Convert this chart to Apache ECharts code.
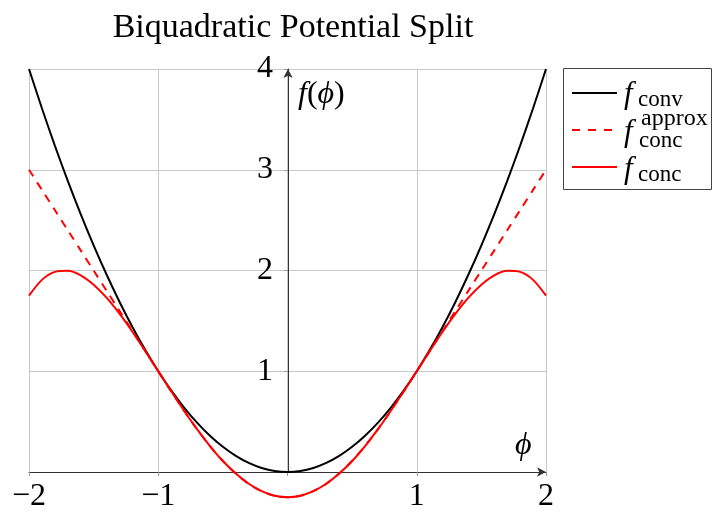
<!DOCTYPE html>
<html>
<head>
<meta charset="utf-8">
<script src="https://cdn.jsdelivr.net/npm/echarts@6/dist/echarts.min.js"></script>
<style>
  html, body { margin: 0; padding: 0; background: #fff; }
  #chart { width: 714px; height: 514px; }
</style>
</head>
<body>
<div id="chart"></div>
<script>
// sample points along phi
const phiValues = [
  -2, -1.9, -1.8, -1.7, -1.6, -1.5, -1.4, -1.3, -1.2, -1.1,
  -1, -0.9, -0.8, -0.7, -0.6, -0.5, -0.4, -0.3, -0.2, -0.1,
  0, 0.1, 0.2, 0.3, 0.4, 0.5, 0.6, 0.7, 0.8, 0.9,
  1, 1.1, 1.2, 1.3, 1.4, 1.5, 1.6, 1.7, 1.8, 1.9, 2
]
// f_conv
const convValues = [
  4, 3.61, 3.24, 2.89, 2.56, 2.25, 1.96, 1.69, 1.44, 1.21,
  1, 0.81, 0.64, 0.49, 0.36, 0.25, 0.16, 0.09, 0.04, 0.01,
  0, 0.01, 0.04, 0.09, 0.16, 0.25, 0.36, 0.49, 0.64, 0.81,
  1, 1.21, 1.44, 1.69, 1.96, 2.25, 2.56, 2.89, 3.24, 3.61, 4
]
// f_conc approx (dashed)
const approxValues = [
  3, 2.8, 2.6, 2.4, 2.2, 2.0, 1.8, 1.6, 1.4, 1.2,
  1, 0.801, 0.608, 0.425, 0.258, 0.109, -0.016, -0.117, -0.19, -0.235,
  -0.25, -0.235, -0.19, -0.117, -0.016, 0.109, 0.258, 0.425, 0.608, 0.801,
  1, 1.2, 1.4, 1.6, 1.8, 2.0, 2.2, 2.4, 2.6, 2.8, 3
]
// f_conc
const concValues = [
  1.75, 1.907, 1.986, 1.997, 1.952, 1.859, 1.73, 1.571, 1.392, 1.199,
  1, 0.801, 0.608, 0.425, 0.258, 0.109, -0.016, -0.117, -0.19, -0.235,
  -0.25, -0.235, -0.19, -0.117, -0.016, 0.109, 0.258, 0.425, 0.608, 0.801,
  1, 1.199, 1.392, 1.571, 1.73, 1.859, 1.952, 1.997, 1.986, 1.907, 1.75
]

const serif = '"Liberation Serif", "DejaVu Serif", serif'
const pairs = ys => phiValues.map((x, i) => [x, ys[i]])
const tickLabel = v => (v === 0 ? '' : String(v).replace('-', '\u2212'))
const PHI = '\u03d5'

const chart = echarts.init(document.getElementById('chart'))
chart.setOption({
  backgroundColor: '#fff',
  animation: false,
  title: {
    text: 'Biquadratic Potential Split',
    left: 288,
    textAlign: 'center',
    top: 6,
    textStyle: { fontFamily: serif, fontWeight: 'normal', fontSize: 34, color: '#000' }
  },
  grid: {
    left: 29,
    right: 168,
    top: 69,
    bottom: 42,
    containLabel: false,
    outerBoundsMode: 'none'
  },
  xAxis: {
    type: 'value',
    min: -2,
    max: 2,
    interval: 1,
    axisLine: {
      onZero: true,
      symbol: ['none', 'arrow'],
      symbolSize: [7, 9],
      lineStyle: { color: '#333', width: 1 }
    },
    axisTick: { show: true, length: 4, lineStyle: { color: '#999' } },
    splitLine: { show: true, lineStyle: { color: '#c8c8c8', width: 1 } },
    axisLabel: {
      margin: 9,
      color: '#000',
      fontFamily: serif,
      fontSize: 32,
      formatter: tickLabel,
      showMinLabel: true,
      showMaxLabel: true,
      hideOverlap: false
    }
  },
  yAxis: {
    type: 'value',
    min: 0,
    max: 4,
    interval: 1,
    offset: -259, // put the axis at phi = 0, labels included
    axisLine: {
      onZero: false,
      symbol: ['none', 'arrow'],
      symbolSize: [7, 9],
      lineStyle: { color: '#333', width: 1 }
    },
    axisTick: { show: true, length: 4, lineStyle: { color: '#999' } },
    splitLine: { show: true, lineStyle: { color: '#c8c8c8', width: 1 } },
    axisLabel: {
      margin: 15,
      color: '#000',
      fontFamily: serif,
      fontSize: 32,
      formatter: tickLabel,
      showMinLabel: true,
      showMaxLabel: true,
      hideOverlap: false
    }
  },
  series: [
    {
      name: 'conv',
      type: 'line',
      data: pairs(convValues),
      showSymbol: false,
      smooth: 0.3,
      clip: false,
      lineStyle: { color: '#000', width: 2 }
    },
    {
      name: 'approx',
      type: 'line',
      data: pairs(approxValues),
      showSymbol: false,
      smooth: 0.3,
      clip: false,
      lineStyle: { color: '#ff0000', width: 2, type: [8, 7] }
    },
    {
      name: 'conc',
      type: 'line',
      data: pairs(concValues),
      showSymbol: false,
      smooth: 0.3,
      clip: false,
      lineStyle: { color: '#ff0000', width: 2 }
    }
  ],
  graphic: [
    // axis names
    {
      type: 'text',
      left: 298,
      top: 79,
      style: {
        text: '{i|f}(' + '{i|' + PHI + '})',
        font: '32px ' + serif,
        fill: '#000',
        rich: { i: { fontStyle: 'italic', fontFamily: serif, fontSize: 32 } }
      }
    },
    {
      type: 'text',
      left: 515,
      top: 430,
      style: { text: PHI, font: 'italic 32px ' + serif, fill: '#000' }
    },
    // legend box
    {
      type: 'rect',
      shape: { x: 563.5, y: 68.5, width: 148, height: 121 },
      style: { fill: '#fff', stroke: '#444', lineWidth: 1 }
    },
    {
      type: 'line',
      shape: { x1: 572, y1: 93, x2: 617, y2: 93 },
      style: { stroke: '#000', lineWidth: 2 }
    },
    {
      type: 'line',
      shape: { x1: 572, y1: 130, x2: 617, y2: 130 },
      style: { stroke: '#ff0000', lineWidth: 2, lineDash: [8, 8] }
    },
    {
      type: 'line',
      shape: { x1: 572, y1: 167, x2: 617, y2: 167 },
      style: { stroke: '#ff0000', lineWidth: 2 }
    },
    { type: 'text', x: 624, y: 95, style: { text: 'f', font: 'italic 31px ' + serif, fill: '#000', verticalAlign: 'middle' } },
    { type: 'text', x: 638, y: 100, style: { text: 'conv', font: '23px ' + serif, fill: '#000', verticalAlign: 'middle' } },
    { type: 'text', x: 624, y: 133, style: { text: 'f', font: 'italic 31px ' + serif, fill: '#000', verticalAlign: 'middle' } },
    { type: 'text', x: 641, y: 119, style: { text: 'approx', font: '24px ' + serif, fill: '#000', verticalAlign: 'middle' } },
    { type: 'text', x: 639, y: 141, style: { text: 'conc', font: '23px ' + serif, fill: '#000', verticalAlign: 'middle' } },
    { type: 'text', x: 624, y: 170, style: { text: 'f', font: 'italic 31px ' + serif, fill: '#000', verticalAlign: 'middle' } },
    { type: 'text', x: 638, y: 175, style: { text: 'conc', font: '23px ' + serif, fill: '#000', verticalAlign: 'middle' } }
  ]
})
</script>
</body>
</html>
